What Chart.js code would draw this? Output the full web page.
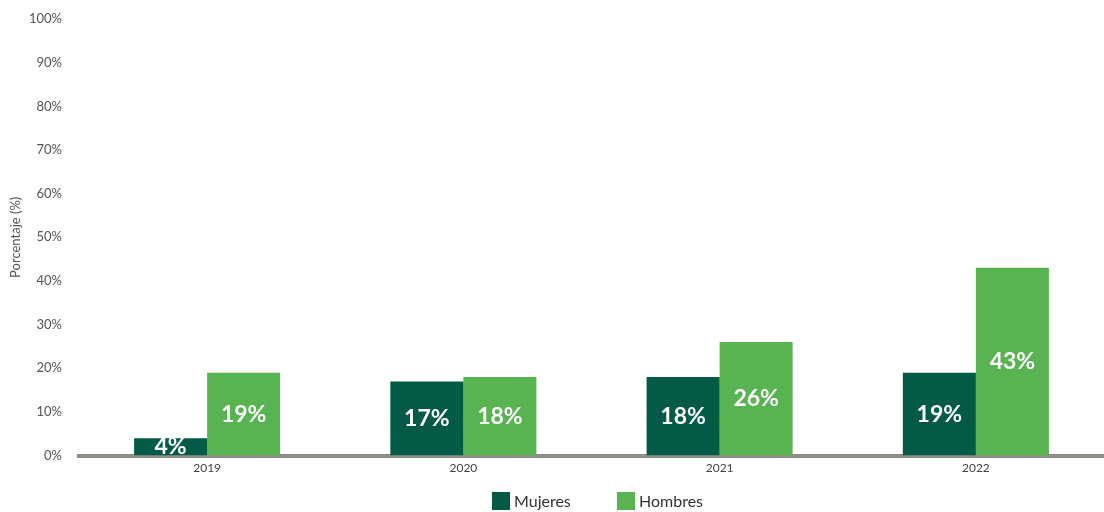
<!DOCTYPE html>
<html>
<head>
<meta charset="utf-8">
<script src="https://cdn.jsdelivr.net/npm/chart.js@4"></script>
<style>
  html, body { margin: 0; padding: 0; background: #fff; }
  #wrap { width: 1104px; height: 512px; position: relative; }
  #legend { position: absolute; left: 0; top: 490px; height: 22px; font: 16px Lato, "Open Sans", sans-serif; color: #333; }
  #legend span.item { position: absolute; top: 0; white-space: nowrap; line-height: 22px; }
  #legend i { display: inline-block; width: 18px; height: 18px; vertical-align: -3px; margin-right: 4px; }
</style>
</head>
<body>
<div id="wrap">
  <canvas id="chart"></canvas>
  <div id="legend"></div>
</div>
<script>
// data
const years = ['2019', '2020', '2021', '2022'];
const mujeres = [4, 17, 18, 19];
const hombres = [19, 18, 26, 43];
const seriesNames = ['Mujeres', 'Hombres'];
const seriesColors = ['#035a47', '#58b351'];

const FONT = 'Lato, "Open Sans", sans-serif';

// white value labels centred in each bar
const barLabels = {
  id: 'barLabels',
  afterDatasetsDraw(chart) {
    const ctx = chart.ctx;
    ctx.save();
    ctx.fillStyle = '#ffffff';
    ctx.font = 'bold 23px ' + FONT;
    ctx.textAlign = 'center';
    ctx.textBaseline = 'middle';
    chart.data.datasets.forEach((ds, i) => {
      chart.getDatasetMeta(i).data.forEach((bar, j) => {
        const { x, y, base } = bar.getProps(['x', 'y', 'base'], true);
        ctx.fillText(ds.data[j] + '%', x, (y + base) / 2);
      });
    });
    ctx.restore();
  }
};

new Chart(document.getElementById('chart'), {
  type: 'bar',
  data: {
    labels: years,
    datasets: seriesNames.map((name, i) => ({
      label: name,
      data: i === 0 ? mujeres : hombres,
      backgroundColor: seriesColors[i]
    }))
  },
  options: {
    responsive: true,
    maintainAspectRatio: false,
    animation: false,
    layout: { padding: { left: 0, right: 0, top: 19, bottom: 32 } },
    datasets: { bar: { categoryPercentage: 0.57, barPercentage: 1.0 } },
    plugins: {
      tooltip: { enabled: false },
      legend: { display: false }
    },
    scales: {
      x: {
        z: 1,
        grid: { display: false, drawTicks: false },
        border: { display: true, color: '#8f8f88', width: 4 },
        ticks: { color: '#444', padding: 5, font: { family: FONT, size: 12 } }
      },
      y: {
        min: 0,
        max: 100,
        afterFit: s => { s.width = 79; s.paddingTop = 0; },
        grid: { display: false, drawTicks: false },
        border: { display: false },
        ticks: {
          stepSize: 10,
          padding: 17,
          color: '#555',
          font: { family: FONT, size: 13 },
          callback: v => v + '%'
        },
        title: {
          display: true,
          text: 'Porcentaje (%)',
          color: '#555',
          padding: { top: 8, bottom: 0 },
          font: { family: FONT, size: 13 }
        }
      }
    }
  },
  plugins: [barLabels]
});

// legend below the plot
const legend = document.getElementById('legend');
const legendX = [492, 617];
seriesNames.forEach((name, i) => {
  const item = document.createElement('span');
  item.className = 'item';
  item.style.left = legendX[i] + 'px';
  item.innerHTML = '<i style="background:' + seriesColors[i] + '"></i>' + name;
  legend.appendChild(item);
});
</script>
</body>
</html>
